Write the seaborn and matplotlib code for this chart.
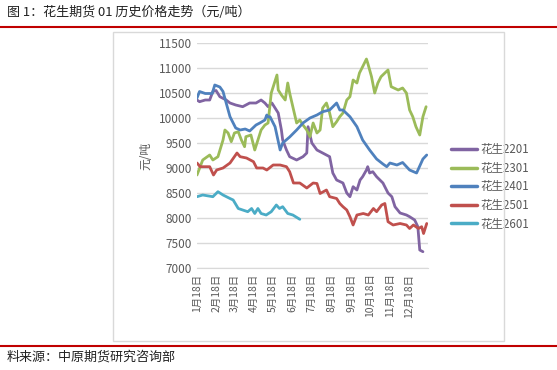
import numpy as np
import pandas as pd
import matplotlib
matplotlib.use("Agg")
import matplotlib.pyplot as plt
from matplotlib.patches import Rectangle
from matplotlib.lines import Line2D
import seaborn as sns

# days counted from Jan 18
d2201 = [0, 4, 13, 20, 25, 30, 36, 46, 52, 61, 72, 83, 93, 101, 107, 112, 118, 123, 128, 133, 135, 141, 146, 157,
         167, 173, 175, 181, 189, 198, 209, 214, 220, 230, 236, 241, 246, 252, 257, 261, 267, 269, 272, 277, 283,
         293, 301, 307, 312, 320, 330, 335, 343, 348, 351, 356]
v2201 = [10360, 10326, 10360, 10360, 10530, 10550, 10426, 10360, 10300, 10260, 10226, 10300, 10300, 10360, 10300,
         10226, 10300, 10200, 10100, 9760, 9560, 9360, 9226, 9160, 9226, 9300, 9826, 9500, 9360, 9300, 9226, 8900,
         8760, 8700, 8500, 8426, 8626, 8560, 8760, 8826, 8960, 9026, 8900, 8926, 8826, 8700, 8500, 8426, 8226, 8100,
         8060, 8026, 7960, 7826, 7360, 7326]

d2301 = [0, 9, 20, 25, 33, 41, 44, 49, 54, 59, 65, 70, 75, 77, 85, 91, 96, 101, 107, 112, 117, 126, 128, 133, 139,
         143, 146, 151, 157, 162, 167, 173, 178, 183, 189, 194, 198, 204, 209, 214, 220, 225, 230, 236, 241, 246,
         252, 256, 261, 267, 269, 275, 280, 285, 290, 296, 301, 306, 317, 324, 330, 335, 340, 345, 351, 356, 361]
v2301 = [8860, 9160, 9260, 9160, 9226, 9560, 9760, 9700, 9526, 9700, 9726, 9560, 9426, 9626, 9660, 9360, 9560,
         9760, 9860, 9900, 10500, 10860, 10560, 10460, 10360, 10700, 10500, 10226, 9900, 9960, 9860, 9760, 9626,
         9900, 9700, 9760, 10200, 10300, 10100, 9826, 9926, 10026, 10100, 10360, 10426, 10760, 10700, 10900, 11026,
         11180, 11100, 10826, 10500, 10700, 10826, 10900, 10960, 10626, 10560, 10600, 10500, 10160, 10026, 9826,
         9660, 10026, 10226]

d2401 = [0, 4, 13, 24, 28, 36, 41, 46, 52, 57, 61, 68, 76, 83, 93, 99, 107, 110, 112, 115, 123, 131, 135, 146, 157,
         167, 178, 189, 198, 209, 220, 225, 230, 241, 252, 261, 272, 283, 293, 299, 304, 315, 324, 335, 346, 356, 362]
v2401 = [10400, 10530, 10490, 10490, 10660, 10620, 10530, 10300, 10026, 9900, 9800, 9760, 9780, 9740, 9860, 9900,
         9960, 10060, 10020, 10026, 9826, 9360, 9500, 9620, 9760, 9900, 10000, 10060, 10126, 10160, 10300, 10160,
         10160, 10026, 9826, 9560, 9360, 9180, 9080, 9026, 9100, 9060, 9110, 8960, 8900, 9180, 9260]

d2501 = [0, 5, 20, 26, 31, 41, 52, 63, 68, 78, 89, 94, 104, 110, 120, 131, 141, 146, 152, 162, 173, 183, 189, 194,
         204, 209, 220, 225, 230, 236, 241, 246, 252, 262, 270, 278, 283, 291, 296, 301, 309, 320, 330, 335, 341,
         349, 354, 357, 362]
v2501 = [9100, 9026, 9026, 8860, 8960, 9000, 9100, 9300, 9226, 9200, 9126, 9000, 9000, 8960, 9060, 9060, 9026,
         8926, 8700, 8700, 8600, 8700, 8690, 8490, 8560, 8426, 8390, 8290, 8226, 8160, 8026, 7860, 8060, 8090, 8060,
         8190, 8126, 8260, 8290, 7926, 7860, 7890, 7860, 7790, 7860, 7790, 7826, 7690, 7890]

d2601 = [0, 9, 25, 33, 41, 52, 57, 65, 72, 80, 86, 91, 96, 101, 109, 117, 125, 130, 135, 143, 151, 162]
v2601 = [8426, 8460, 8426, 8526, 8460, 8390, 8360, 8190, 8160, 8126, 8190, 8090, 8190, 8090, 8060, 8126, 8260,
         8190, 8226, 8090, 8060, 7974]

names = ["花生2201", "花生2301", "花生2401", "花生2501", "花生2601"]
colors = ["#8064A2", "#9BBB59", "#4F81BD", "#C0504D", "#4BACC6"]
tick_days = [0, 31, 59, 90, 120, 151, 181, 212, 243, 273, 304, 334]
tick_labels = [f"{m}月18日" for m in range(1, 13)]

frames = []
for n, d, v in zip(names, [d2201, d2301, d2401, d2501, d2601], [v2201, v2301, v2401, v2501, v2601]):
    frames.append(pd.DataFrame({"day": d, "price": v, "contract": n}))
df = pd.concat(frames, ignore_index=True)

sns.set_style("white")
plt.rcParams["font.family"] = ["Noto Sans CJK SC", "DejaVu Sans"]

fig = plt.figure(figsize=(5.57, 3.70), dpi=100)
ax = fig.add_axes([197 / 557, 1 - 268 / 370, 231 / 557, 225 / 370])

sns.lineplot(data=df, x="day", y="price", hue="contract", palette=colors, hue_order=names,
             estimator=None, sort=False, linewidth=2, ax=ax, legend=False)

ax.set_xlim(0, 364)
ax.set_ylim(7000, 11500)
ax.set_yticks(np.arange(7000, 11501, 500))
ax.set_xticks(tick_days, labels=tick_labels, rotation=90)
ax.tick_params(axis="both", length=0, colors="#595959", labelsize=7.5)
ax.tick_params(axis="y", labelsize=8.5)
ax.tick_params(axis="x", pad=4)
ax.grid(axis="y", color="#D9D9D9", linewidth=1)
ax.set_axisbelow(True)
for s in ["top", "right", "left"]:
    ax.spines[s].set_visible(False)
ax.spines["bottom"].set_color("#D9D9D9")
ax.set_xlabel("")
ax.set_ylabel("元/吨", color="#595959", fontsize=8.5, labelpad=5)

handles = [Line2D([], [], color=c, linewidth=2.5) for c in colors]
ax.legend(handles, names, loc="upper left", bbox_to_anchor=(441 / 557, 1 - 133 / 370),
          bbox_transform=fig.transFigure, frameon=False, fontsize=8.3, handlelength=2.2,
          handletextpad=0.3, labelspacing=0.48, labelcolor="#595959")

# outer frame and report decorations
fig.patches.append(Rectangle((113 / 557, 1 - 341 / 370), 391 / 557, 309 / 370,
                             transform=fig.transFigure, fill=False, edgecolor="#D9D9D9", linewidth=1))
fig.add_artist(Line2D([0, 1], [1 - 27 / 370] * 2, color="#C00000", linewidth=1.5, transform=fig.transFigure))
fig.add_artist(Line2D([0, 1], [1 - 346 / 370] * 2, color="#C00000", linewidth=1.5, transform=fig.transFigure))
fig.text(7 / 557, 1 - 12 / 370, "图 1：花生期货 01 历史价格走势（元/吨）", fontsize=9.4, va="center", color="#222222")
fig.text(7 / 557, 1 - 357 / 370, "料来源：中原期货研究咨询部", fontsize=9.4, va="center", color="#222222")

fig.savefig("out.png", dpi=100)
